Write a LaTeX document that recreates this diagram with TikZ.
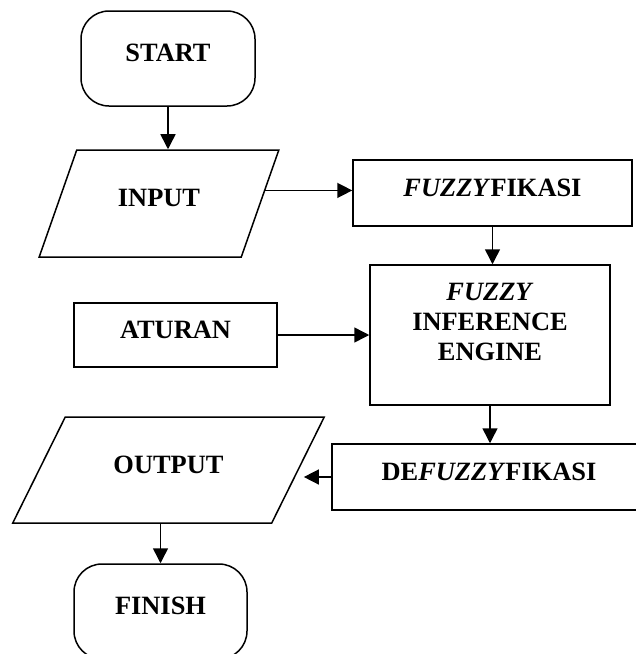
\documentclass[tikz,border=0pt]{standalone}
\usepackage{fontspec}
\setmainfont{Liberation Serif}
\usetikzlibrary{shapes.geometric,arrows.meta}

\tikzset{
    flow/.style={draw, line width=0.75pt, inner sep=0pt,
        font=\fontsize{13.2}{15}\selectfont\bfseries,
        text height=9pt, text depth=6pt},
    box/.style={flow, rectangle},
    term/.style={flow, rectangle, rounded corners=14pt,
        minimum width=87pt, minimum height=47.5pt},
    io/.style={flow, trapezium, trapezium stretches=true},
    arr/.style={line width=0.75pt, -{Triangle[length=7.5pt,width=7.5pt]}}
}

\begin{document}
\begin{tikzpicture}[x=0.5pt, y=-0.5pt]
    \path [use as bounding box, clip] (0,0) rectangle (636,654);

    \node [term] (start) at (168,58.5) {START};
    \node [io, trapezium left angle=58, trapezium right angle=122,
        minimum width=120pt, minimum height=53.5pt] (input) at (159,203.5) {INPUT};
    \node [box, minimum width=139.5pt, minimum height=33pt] (fuzz) at (492.5,193)
        {\textit{FUZZY}FIKASI};
    \node [box, minimum width=120pt, minimum height=70pt,
        text height=9pt, text depth=43.3pt] (fie) at (490,335)
        {\begin{tabular}[t]{@{}c@{}}\textit{FUZZY}\\INFERENCE\\ENGINE\end{tabular}};
    \node [box, minimum width=101.5pt, minimum height=32pt] (aturan) at (175.5,335) {ATURAN};
    \node [box, minimum width=157pt, minimum height=33pt] (defuzz) at (489,477)
        {DE\textit{FUZZY}FIKASI};
    \node [io, trapezium left angle=47, trapezium right angle=133,
        minimum width=156.5pt, minimum height=53pt] (output) at (168.5,470) {OUTPUT};
    \node [term, minimum width=86.5pt] (finish) at (160.5,611.5) {FINISH};

    \draw [arr] (start.south) -- (start.south |- input.north);
    \draw [arr] (input.7) -- (input.7 -| fuzz.west);
    \draw [arr] (fuzz.south) -- (fuzz.south |- fie.north);
    \draw [arr] (aturan.east) -- (fie.west);
    \draw [arr] (fie.south) -- (fie.south |- defuzz.north);
    \draw [arr, shorten >=2.5pt] (defuzz.west) -- (defuzz.west -| output.east);
    \draw [arr] (finish.north |- output.south) -- (finish.north);

\end{tikzpicture}
\end{document}
